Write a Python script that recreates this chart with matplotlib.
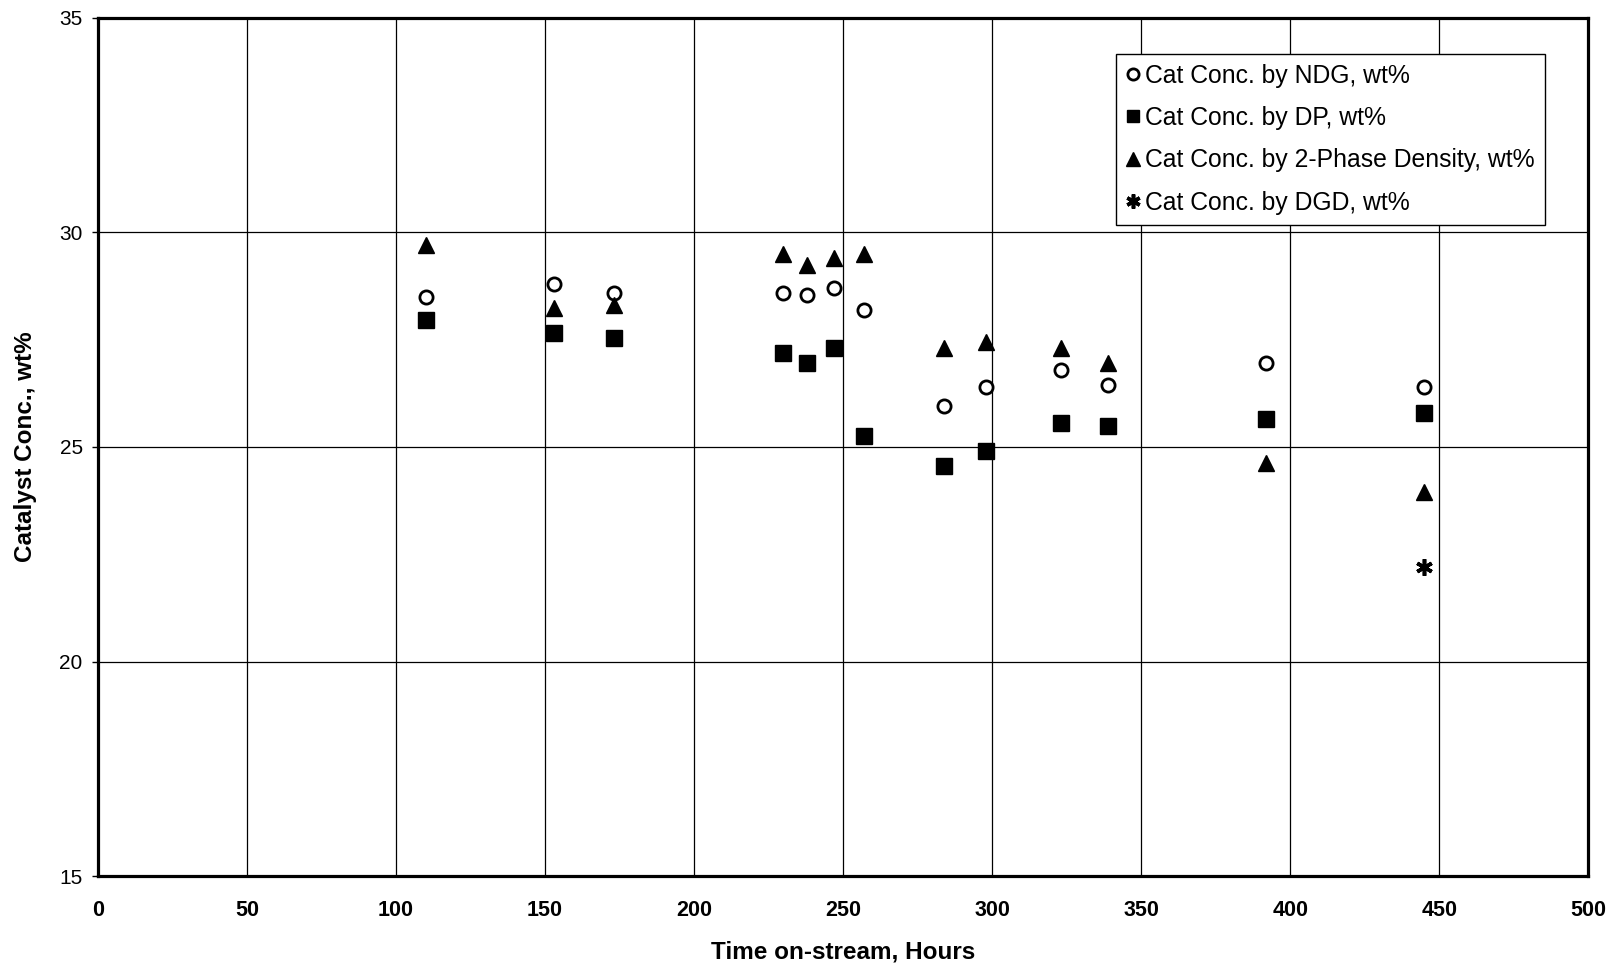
import matplotlib
matplotlib.use("Agg")
import matplotlib.pyplot as plt

plt.rcParams['font.family'] = ['Liberation Sans', 'DejaVu Sans']

# Data (hours on-stream, catalyst concentration wt%)
time_hours = [110, 153, 173, 230, 238, 247, 257, 284, 298, 323, 339, 392, 445]
ndg = [28.5, 28.8, 28.6, 28.6, 28.55, 28.7, 28.2, 25.95, 26.4, 26.8, 26.45, 26.95, 26.4]
dp = [27.95, 27.65, 27.55, 27.2, 26.95, 27.3, 25.25, 24.55, 24.9, 25.55, 25.5, 25.65, 25.8]
two_phase = [29.7, 28.25, 28.3, 29.5, 29.25, 29.4, 29.5, 27.3, 27.45, 27.3, 26.95, 24.62, 23.95]
dgd_time = [445]
dgd = [22.2]

labels = ["Cat Conc. by NDG, wt%", "Cat Conc. by DP, wt%",
          "Cat Conc. by 2-Phase Density, wt%", "Cat Conc. by DGD, wt%"]
x_ticks = [0, 50, 100, 150, 200, 250, 300, 350, 400, 450, 500]
y_ticks = [15, 20, 25, 30, 35]

fig = plt.figure(figsize=(16.19, 9.68), dpi=100)
ax = fig.add_axes([0.0605, 0.095, 0.9205, 0.8865])

ax.plot(time_hours, ndg, linestyle='none', marker='o', markersize=9.5,
        markerfacecolor='white', markeredgecolor='black', markeredgewidth=2.0,
        label=labels[0], zorder=3)
ax.plot(time_hours, dp, linestyle='none', marker='s', markersize=11,
        color='black', label=labels[1], zorder=3)
ax.plot(time_hours, two_phase, linestyle='none', marker='^', markersize=12,
        color='black', label=labels[2], zorder=3)
ax.plot(dgd_time, dgd, linestyle='none', marker=(6, 2, 0), markersize=12,
        markeredgewidth=2.6, color='black', label=labels[3], zorder=3)

ax.set_xlim(0, 500)
ax.set_ylim(15, 35)
ax.set_xticks(x_ticks)
ax.set_yticks(y_ticks)
ax.grid(True, color='black', linewidth=0.9)
ax.set_axisbelow(True)

for s in ax.spines.values():
    s.set_linewidth(2.3)
    s.set_color('black')

ax.tick_params(axis='y', direction='out', length=4, width=1, labelsize=15, pad=7)
ax.tick_params(axis='x', length=0, labelsize=15.5, pad=17)
for lab in ax.get_xticklabels():
    lab.set_fontweight('bold')

ax.set_xlabel("Time on-stream, Hours", fontsize=17.5, fontweight='bold', labelpad=14)
ax.set_ylabel("Catalyst Conc., wt%", fontsize=17.5, fontweight='bold', labelpad=16)

leg = ax.legend(loc='upper left', bbox_to_anchor=(0.683, 0.958), fontsize=17.8,
                frameon=True, fancybox=False, edgecolor='black', framealpha=1,
                handlelength=0.55, handletextpad=0.25, labelspacing=0.74,
                borderpad=0.4, markerscale=0.85, borderaxespad=0)
leg.get_frame().set_linewidth(1.0)

fig.savefig("out.png", dpi=100)
